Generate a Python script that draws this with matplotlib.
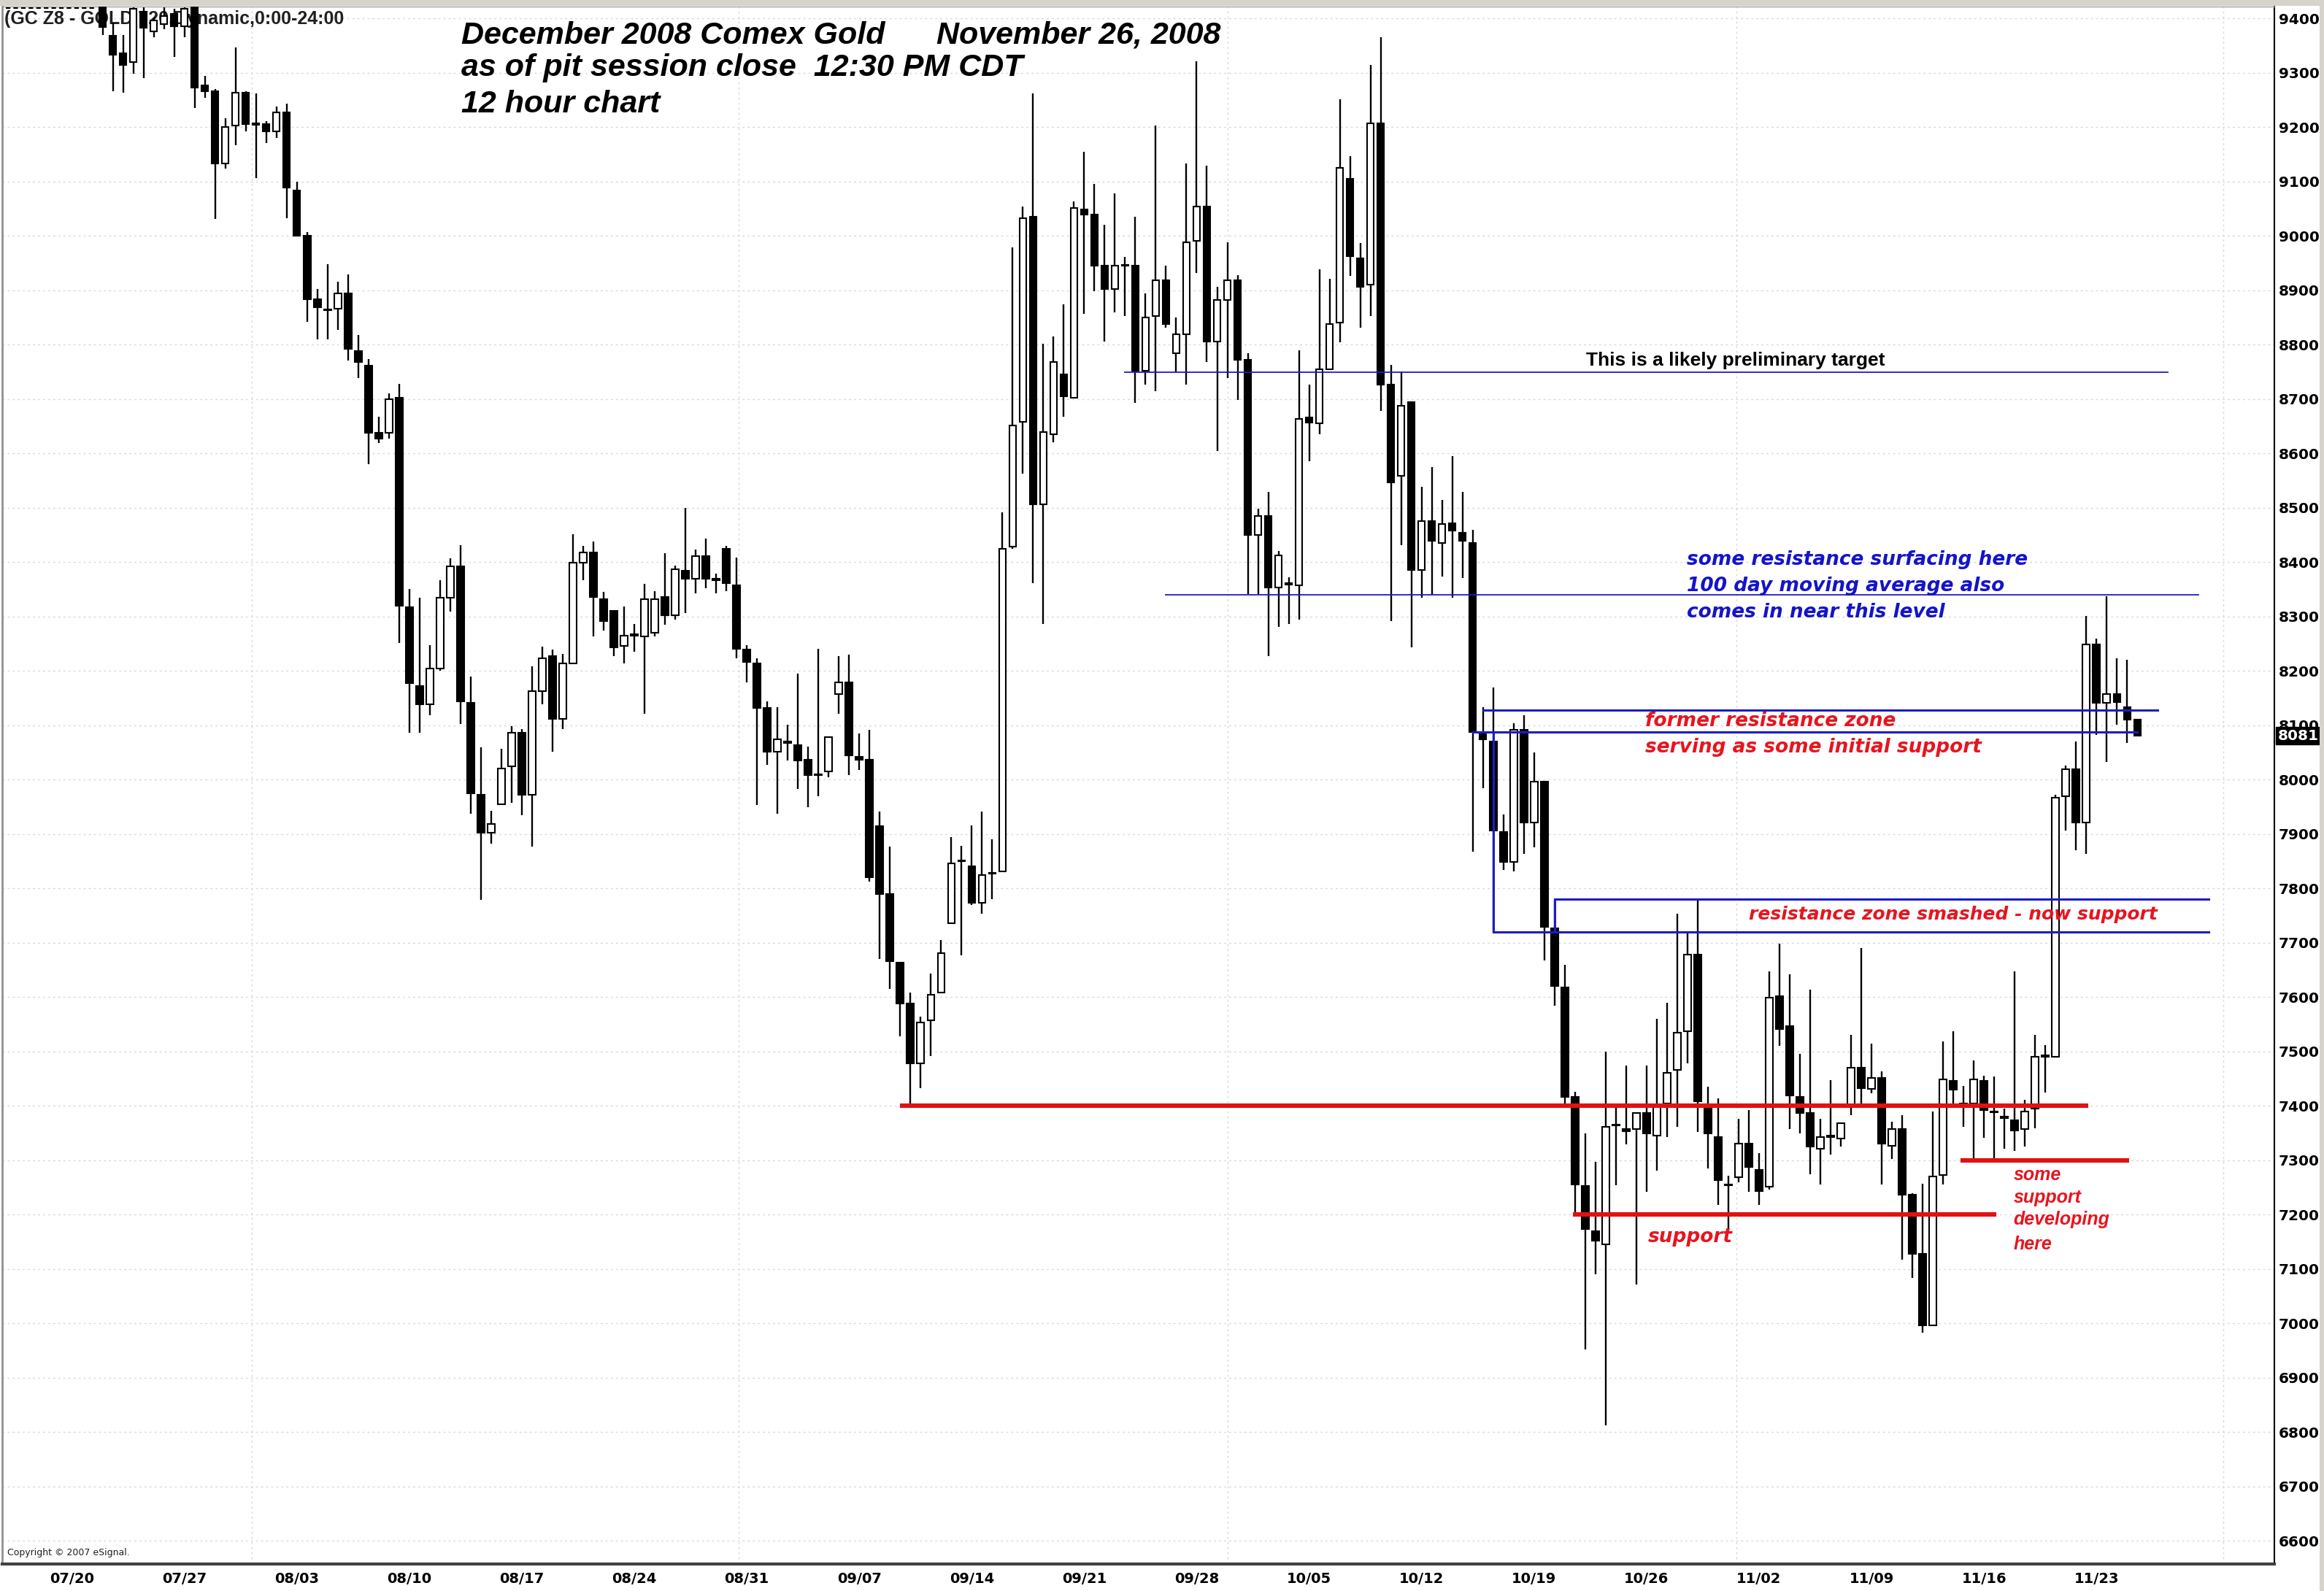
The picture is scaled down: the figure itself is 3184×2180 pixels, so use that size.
import matplotlib
matplotlib.use("Agg")
import matplotlib.pyplot as plt
import matplotlib.transforms as mtransforms
from matplotlib.patches import Rectangle
from matplotlib.lines import Line2D
import numpy as np

# ---------------- data (12-hour bars, GC Z8) ----------------
opens = [9420, 9368, 9336, 9320, 9413, 9376, 9390, 9408, 9386, 9424,
         9277, 9266, 9134, 9203, 9264, 9206, 9206, 9192, 9227, 9084,
         9001, 8884, 8864, 8866, 8895, 8789, 8762, 8638, 8638, 8702,
         8317, 8173, 8139, 8205, 8335, 8392, 8141, 7973, 7903, 7955,
         8025, 8086, 7972, 8163, 8227, 8112, 8214, 8399, 8418, 8332,
         8310, 8246, 8265, 8263, 8270, 8336, 8303, 8384, 8370, 8411,
         8367, 8425, 8358, 8239, 8214, 8132, 8052, 8069, 8063, 8037,
         8008, 8015, 8157, 8179, 8042, 8037, 7914, 7790, 7664, 7588,
         7479, 7557, 7608, 7736, 7850, 7841, 7774, 7827, 7831, 8429,
         8658, 9035, 8507, 8636, 8746, 8703, 9049, 9039, 8945, 8903,
         8945, 8945, 8752, 8853, 8919, 8785, 8819, 8991, 9054, 8806,
         8882, 8919, 8772, 8450, 8485, 8353, 8359, 8357, 8666, 8655,
         8755, 8841, 9105, 8959, 8911, 9207, 8727, 8559, 8695, 8386,
         8476, 8436, 8472, 8454, 8436, 8084, 8070, 7904, 7849, 8092,
         7921, 7996, 7727, 7618, 7417, 7253, 7170, 7146, 7364, 7357,
         7357, 7387, 7346, 7405, 7466, 7537, 7679, 7403, 7343, 7256,
         7269, 7331, 7283, 7251, 7602, 7547, 7417, 7387, 7322, 7343,
         7340, 7399, 7470, 7431, 7451, 7327, 7357, 7237, 7128, 6997,
         7273, 7446, 7402, 7405, 7446, 7388, 7378, 7374, 7358, 7395,
         7491, 7491, 7970, 8019, 7922, 8249, 8141, 8158, 8133, 8111]

highs = [9440, 9392, 9370, 9424, 9430, 9402, 9420, 9418, 9430, 9440,
         9294, 9270, 9216, 9347, 9266, 9262, 9211, 9238, 9243, 9100,
         9007, 8903, 8948, 8916, 8929, 8818, 8774, 8668, 8710, 8728,
         8351, 8335, 8247, 8367, 8407, 8431, 8190, 8059, 7943, 8057,
         8099, 8093, 8208, 8245, 8239, 8232, 8451, 8430, 8438, 8345,
         8310, 8319, 8287, 8360, 8347, 8416, 8394, 8500, 8423, 8443,
         8379, 8430, 8408, 8248, 8224, 8144, 8134, 8101, 8195, 8061,
         8241, 8079, 8227, 8230, 8085, 8092, 7941, 7877, 7664, 7608,
         7564, 7644, 7705, 7894, 7879, 7916, 7942, 7891, 8492, 8979,
         9054, 9262, 8802, 8815, 8875, 9064, 9155, 9096, 9020, 9079,
         8961, 9036, 8894, 9203, 8945, 8850, 9133, 9322, 9130, 8907,
         8989, 8928, 8785, 8498, 8529, 8420, 8372, 8790, 8727, 8939,
         8921, 9251, 9147, 8987, 9315, 9366, 8763, 8751, 8695, 8539,
         8575, 8515, 8595, 8529, 8460, 8134, 8170, 7936, 8104, 8119,
         8050, 7996, 7778, 7660, 7426, 7350, 7297, 7500, 7399, 7475,
         7389, 7475, 7560, 7590, 7753, 7722, 7780, 7436, 7414, 7272,
         7376, 7392, 7313, 7648, 7699, 7642, 7496, 7614, 7377, 7448,
         7368, 7531, 7690, 7514, 7463, 7371, 7383, 7239, 7257, 7390,
         7519, 7538, 7437, 7484, 7455, 7454, 7395, 7647, 7411, 7531,
         7512, 7972, 8026, 8070, 8301, 8259, 8337, 8224, 8221, 8111]

lows = [9370, 9266, 9264, 9298, 9291, 9365, 9380, 9330, 9365, 9235,
        9254, 9031, 9124, 9167, 9192, 9107, 9171, 9181, 9033, 8999,
        8842, 8810, 8810, 8827, 8771, 8739, 8580, 8619, 8627, 8251,
        8086, 8086, 8118, 8201, 8309, 8102, 7937, 7779, 7882, 7953,
        7957, 7935, 7877, 8139, 8052, 8093, 8212, 8367, 8263, 8274,
        8227, 8214, 8236, 8122, 8263, 8285, 8294, 8307, 8343, 8352,
        8343, 8347, 8224, 8179, 7954, 8028, 7938, 8035, 7983, 7950,
        7970, 8005, 8122, 8008, 8018, 7812, 7670, 7615, 7528, 7397,
        7433, 7492, 7608, 7736, 7677, 7770, 7753, 7780, 7831, 8425,
        8563, 8362, 8286, 8621, 8668, 8702, 8857, 8898, 8806, 8860,
        8853, 8693, 8727, 8714, 8831, 8750, 8727, 8932, 8768, 8605,
        8739, 8699, 8341, 8341, 8227, 8281, 8287, 8294, 8586, 8635,
        8755, 8805, 8927, 8832, 8853, 8679, 8292, 8431, 8244, 8335,
        8340, 8374, 8335, 8371, 7868, 7984, 7720, 7834, 7832, 7864,
        7876, 7667, 7584, 7405, 7198, 6952, 7091, 6812, 7254, 7329,
        7072, 7242, 7281, 7343, 7362, 7479, 7352, 7285, 7218, 7172,
        7260, 7242, 7218, 7246, 7510, 7357, 7350, 7274, 7255, 7311,
        7325, 7383, 7405, 7424, 7255, 7302, 7117, 7084, 6983, 6997,
        7256, 7405, 7361, 7298, 7342, 7303, 7322, 7317, 7326, 7359,
        7425, 7491, 7907, 7870, 7863, 8083, 8033, 8101, 8067, 8080]

closes = [9385, 9333, 9315, 9418, 9383, 9397, 9405, 9386, 9418, 9273,
          9266, 9134, 9201, 9264, 9206, 9205, 9192, 9227, 9089, 9001,
          8884, 8869, 8863, 8895, 8792, 8768, 8638, 8627, 8700, 8320,
          8178, 8139, 8205, 8335, 8392, 8144, 7975, 7903, 7919, 8021,
          8086, 7972, 8163, 8224, 8112, 8214, 8399, 8418, 8336, 8292,
          8243, 8265, 8265, 8332, 8332, 8303, 8387, 8370, 8411, 8370,
          8367, 8361, 8241, 8216, 8132, 8052, 8074, 8068, 8035, 8008,
          8008, 8079, 8179, 8045, 8037, 7821, 7790, 7666, 7588, 7479,
          7553, 7604, 7681, 7846, 7850, 7774, 7825, 7827, 8425, 8651,
          9033, 8507, 8639, 8768, 8705, 9052, 9039, 8945, 8903, 8945,
          8945, 8752, 8850, 8919, 8838, 8819, 8989, 9054, 8806, 8882,
          8919, 8772, 8450, 8485, 8353, 8412, 8359, 8664, 8657, 8755,
          8838, 9126, 8963, 8907, 9207, 8727, 8547, 8688, 8386, 8476,
          8440, 8470, 8458, 8440, 8088, 8074, 7906, 7849, 8092, 7921,
          7996, 7729, 7621, 7417, 7255, 7174, 7152, 7362, 7364, 7353,
          7387, 7350, 7401, 7461, 7535, 7679, 7408, 7350, 7263, 7254,
          7331, 7288, 7244, 7599, 7542, 7420, 7387, 7325, 7343, 7343,
          7368, 7470, 7433, 7451, 7331, 7357, 7237, 7128, 6997, 7270,
          7449, 7430, 7402, 7449, 7392, 7388, 7378, 7355, 7390, 7491,
          7491, 7967, 8019, 7922, 8249, 8141, 8158, 8143, 8111, 8081]

date_labels = ["07/20", "07/27", "08/03", "08/10", "08/17", "08/24", "08/31",
               "09/07", "09/14", "09/21", "09/28", "10/05", "10/12", "10/19",
               "10/26", "11/02", "11/09", "11/16", "11/23"]
price_ticks = list(range(6600, 9401, 100))
last_price = 8081

# annotation levels (price) and their bar spans
blue_thin_levels = [8750, 8340]
blue_thin_spans = [(100, 202), (104, 205)]
blue_zone_levels = [8128, 8088, 7780, 7720]
blue_zone_spans = [(135, 201), (134, 199), (142, 206), (136, 206)]
red_levels = [7400, 7200, 7300]
red_spans = [(78, 194.2), (143.8, 185.2), (181.7, 198.2)]

# ---------------- figure ----------------
W, H = 3184, 2180
fig = plt.figure(figsize=(W / 100, H / 100), dpi=100)
fig.patch.set_facecolor("white")
ax = fig.add_axes([3 / W, (H - 2143) / H, 3113 / W, (2143 - 9) / H])
ax.set_facecolor("white")

n = len(opens)
x = np.arange(n)
o = np.array(opens, float)
h = np.array(highs, float)
l = np.array(lows, float)
c = np.array(closes, float)

ax.set_xlim(-9.82, 212.4)
ax.set_ylim(6557.6, 9422)

# grid
for yv in price_ticks:
    ax.axhline(yv, color="#d8d8d8", lw=1.0, ls=(0, (2, 3)), zorder=0)
for xv in [14.6, 62.2, 110.0, 159.8, 207.4]:
    ax.axvline(xv, color="#d8d8d8", lw=1.0, ls=(0, (2, 3)), zorder=0)

# header (under the candles)
ax.text(6 / W, 1 - 33 / H, "(GC Z8 - GOLD,720,Dynamic,0:00-24:00",
        transform=fig.transFigure, fontsize=18, fontweight="bold",
        family="Liberation Sans", color="#202020", va="baseline", ha="left", zorder=1)

# candles
ax.vlines(x, l, h, color="black", lw=1.7, zorder=2)
body_bottom = np.minimum(o, c)
body_h = np.maximum(np.abs(c - o), 2.0)
faces = ["white" if cc > oo else "black" for oo, cc in zip(o, c)]
ax.bar(x, body_h, bottom=body_bottom, width=0.68, color=faces,
       edgecolor="black", linewidth=1.5, zorder=3)

# annotation lines
blue = "#1c1cc8"
for lev, (a, b) in zip(blue_thin_levels, blue_thin_spans):
    ax.plot([a, b], [lev, lev], color=blue, lw=1.3, zorder=4)
for lev, (a, b) in zip(blue_zone_levels, blue_zone_spans):
    ax.plot([a, b], [lev, lev], color=blue, lw=2.2, zorder=4)
ax.plot([136, 136], [blue_zone_levels[3], blue_zone_levels[1]], color=blue, lw=2.2, zorder=4)
ax.plot([142, 142], [blue_zone_levels[3], blue_zone_levels[2]], color=blue, lw=2.2, zorder=4)
red = "#e01212"
for lev, (a, b) in zip(red_levels, red_spans):
    ax.plot([a, b], [lev, lev], color=red, lw=4.4, zorder=4, solid_capstyle="butt")

# annotation text
ax.text(159.7, 8762, "This is a likely preliminary target", ha="center", va="baseline",
        fontsize=19, fontweight="bold", family="Liberation Sans", color="black", zorder=5)
txtblue = "#1414c8"
for s, yv in zip(["some resistance surfacing here", "100 day moving average also",
                  "comes in near this level"], [8395, 8347, 8299]):
    ax.text(154.9, yv, s, ha="left", va="baseline", fontsize=19, fontweight="bold",
            style="italic", family="DejaVu Sans", color=txtblue, zorder=5)
txtred = "#e8141e"
ax.text(150.9, 8098, "former resistance zone", ha="left", va="baseline", fontsize=19,
        fontweight="bold", style="italic", family="DejaVu Sans", color=txtred, zorder=5)
ax.text(150.9, 8050, "serving as some initial support", ha="left", va="baseline", fontsize=19,
        fontweight="bold", style="italic", family="DejaVu Sans", color=txtred, zorder=5)
ax.text(161, 7743, "resistance zone smashed - now support", ha="left", va="baseline", fontsize=18,
        fontweight="bold", style="italic", family="DejaVu Sans", color=txtred, zorder=5)
ax.text(151.1, 7149, "support", ha="left", va="baseline", fontsize=19,
        fontweight="bold", style="italic", family="DejaVu Sans", color=txtred, zorder=5)
for s, yv in zip(["some", "support", "developing", "here"], [7264, 7222, 7182, 7136]):
    ax.text(186.9, yv, s, ha="left", va="baseline", fontsize=18, fontweight="bold",
            style="italic", family="Liberation Sans", color=txtred, zorder=5)

# titles
for s, px, py in [("December 2008 Comex Gold", 632, 60), ("November 26, 2008", 1283, 60),
                  ("as of pit session close  12:30 PM CDT", 632, 104),
                  ("12 hour chart", 632, 154)]:
    ax.text(px / W, 1 - py / H, s, transform=fig.transFigure, fontsize=31,
            fontweight="bold", style="italic", family="Liberation Sans",
            color="black", va="baseline", ha="left", zorder=6)

# axes / ticks
ax.yaxis.tick_right()
ax.set_yticks(price_ticks)
ax.set_yticklabels([str(v) for v in price_ticks])
ax.tick_params(axis="y", length=0, pad=4, labelsize=14.5, labelcolor="black")
for lab in ax.get_yticklabels():
    lab.set_fontweight("bold")
    lab.set_family("DejaVu Sans")
tick_pos = [-3 + 11 * k for k in range(len(date_labels))]
ax.set_xticks(tick_pos)
ax.set_xticklabels(date_labels)
ax.tick_params(axis="x", length=0, pad=8, labelsize=14, labelcolor="black")
for lab in ax.get_xticklabels():
    lab.set_fontweight("bold")
    lab.set_family("DejaVu Sans")

ax.spines["left"].set_color("#909090")
ax.spines["left"].set_linewidth(2)
ax.spines["bottom"].set_color("#404040")
ax.spines["bottom"].set_linewidth(3)
ax.spines["right"].set_color("black")
ax.spines["right"].set_linewidth(1.5)
ax.spines["top"].set_color("#a0a0a0")
ax.spines["top"].set_linewidth(1)

# last price box
trans = mtransforms.blended_transform_factory(ax.transAxes, ax.transData)
ax.text(1.0015, last_price, str(last_price), transform=trans, ha="left", va="center",
        fontsize=14.5, fontweight="bold", family="DejaVu Sans", color="white", zorder=7,
        bbox=dict(boxstyle="square,pad=0.12", facecolor="black", edgecolor="black"),
        clip_on=False)

# window chrome & copyright
fig.patches.append(Rectangle((0, 1 - 8 / H), 1, 8 / H, transform=fig.transFigure,
                             facecolor="#d6d3cc", edgecolor="none", zorder=10))
fig.lines.append(Line2D([8 / W, 130 / W], [1 - 11 / H, 1 - 11 / H], transform=fig.transFigure,
                        color="black", lw=1.5, ls=(0, (3, 2)), zorder=10))
fig.patches.append(Rectangle((3178 / W, 0), 6 / W, 1, transform=fig.transFigure,
                             facecolor="#d6d3cc", edgecolor="none", zorder=10))
fig.text(10 / W, 1 - 2128 / H, "Copyright \u00a9 2007 eSignal.", fontsize=9,
         family="DejaVu Sans", color="#202020", va="center", ha="left")

fig.savefig("out.png", dpi=100, facecolor="white")
